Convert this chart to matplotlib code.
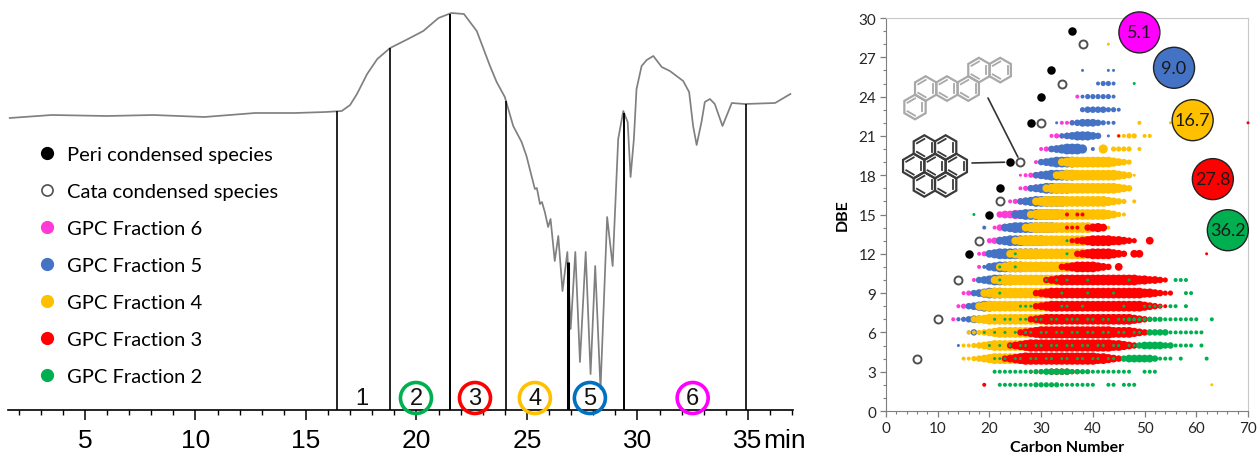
import matplotlib
matplotlib.use("Agg")
import matplotlib.pyplot as plt
from matplotlib.lines import Line2D
from matplotlib.patches import RegularPolygon, ConnectionPatch
import numpy as np

# ---------------- data: chromatogram ----------------
TRACE_T = [1.6, 3.5, 6.0, 8.1, 10.4, 12.7, 14.5, 15.9, 16.62, 17.0, 17.31, 17.77, 18.23, 18.81,
           19.62, 20.31, 21.0, 21.58, 22.15, 22.73, 23.33, 23.63, 24.0, 24.38, 24.76, 24.98,
           25.21, 25.36, 25.45, 25.59, 25.68, 25.81, 25.96, 26.07, 26.26, 26.42, 26.61, 26.83,
           26.98, 27.19, 27.4, 27.66, 27.88, 28.09, 28.33, 28.63, 28.88, 29.13, 29.36, 29.56,
           29.69, 29.84, 29.96, 30.19, 30.42, 30.72, 31.1, 31.47, 32.07, 32.34, 32.52, 32.68,
           32.9, 33.05, 33.28, 33.5, 33.85, 34.27, 34.85, 36.23, 36.92]
TRACE_H = [292, 295, 294, 295, 293, 297, 297, 298, 299, 305, 316, 336, 351, 362,
           371, 379, 392, 397, 396, 379, 344, 328, 313, 284, 268, 254,
           234, 221, 222, 206, 208, 198, 183, 191, 149, 174, 119, 158,
           81, 158, 48, 158, 36, 144, 21, 193, 144, 271, 299, 288,
           233, 271, 321, 344, 350, 354, 343, 339, 329, 318, 284, 265,
           288, 308, 311, 306, 284, 307, 306, 307, 316]
CUT_T = [16.4, 18.8, 21.5, 24.05, 26.85, 29.4, 34.9]
CUT_W = [1.2, 1.2, 1.4, 1.2, 2.2, 1.4, 1.2]
FRAC_NUM = ["1", "2", "3", "4", "5", "6"]
FRAC_NUM_T = [17.55, 19.98, 22.65, 25.36, 27.85, 32.5]
FRAC_NUM_COL = [None, "#00b050", "#ff0000", "#ffc000", "#0070c0", "#ff00ff"]
X_TICKS = [5, 10, 15, 20, 25, 30, 35]

LEGEND_LABELS = ["Peri condensed species", "Cata condensed species", "GPC Fraction 6",
                 "GPC Fraction 5", "GPC Fraction 4", "GPC Fraction 3", "GPC Fraction 2"]

# ---------------- data: DBE vs carbon number ----------------
# rows: (DBE, first carbon number, size class per successive carbon number; 0 = absent)
F6_ROWS = [
    (24, 37, "3"), (22, 34, "334"), (21, 32, "3445"), (20, 30, "34556"), (19, 29, "3456"),
    (18, 26, "234566"), (17, 26, "34566"), (16, 24, "345666"), (15, 22, "5667777"),
    (14, 21, "3566677"), (13, 20, "456677"), (12, 18, "3456677"), (11, 18, "3"),
    (10, 17, "33"), (9, 15, "34"), (8, 14, "344"), (7, 13, "33"),
]
F5_ROWS = [
    (26, 38, "2"), (26, 43, "22"), (25, 41, "3443"), (24, 38, "3444443"), (23, 38, "45555443"),
    (22, 33, "2"), (22, 36, "456665433"), (21, 34, "45677765"), (21, 43, "2"),
    (20, 32, "5678887"), (20, 40, "3"), (19, 30, "567888876"), (18, 29, "5678888876"),
    (17, 28, "5678888876"), (16, 26, "56788888876"), (15, 25, "67888888876"),
    (14, 19, "3"), (14, 23, "678888888876"), (13, 22, "6788888887"), (12, 20, "678888888877"),
    (11, 19, "3678888876"), (10, 18, "5678888"), (9, 17, "5678887"), (8, 16, "5678876"),
    (7, 14, "3456665"), (6, 16, "35"), (5, 14, "22"),
]
F4_ROWS = [
    (28, 43, "2"), (22, 49, "3"), (22, 55, "2"), (21, 45, "3344"), (21, 50, "33"),
    (20, 42, "7"), (20, 44, "4444"), (20, 49, "3"),
    (19, 34, "67888888887654"), (18, 33, "678888888888765"), (18, 48, "2"),
    (17, 31, "67888888888888765"), (16, 29, "678888888888887654"), (16, 48, "3"),
    (15, 28, "6788888888888887643"), (14, 27, "678888888888876"), (14, 43, "3"),
    (13, 25, "6788888888888876"), (12, 24, "67888888888888876"), (11, 22, "678888888888887"),
    (10, 21, "6788888888888876"), (9, 19, "67888888888888876"), (8, 18, "678888888888888876"),
    (7, 17, "56788888888888887"), (6, 16, "3345678888888888"), (5, 15, "33456788888888"),
    (4, 15, "3345678888888"), (2, 63, "2"),
]
F3_ROWS = [
    (22, 70, "2"), (21, 45, "2"), (15, 35, "3033"), (14, 35, "333"), (14, 39, "5676"),
    (13, 36, "4567888877654"), (13, 51, "6"),
    (12, 37, "5678888765"), (12, 48, "66"), (12, 62, "2"),
    (11, 34, "5678888765"), (11, 45, "6"),
    (10, 31, "567888888888888888776654"),
    (9, 29, "56788888888888888888877654"), (9, 55, "4"),
    (8, 29, "56788888888888888888876543"),
    (7, 28, "567888888888888888887654"),
    (6, 26, "56789999999999999988887654"),
    (5, 24, "56789999999999999999887654"),
    (4, 23, "567899999999999999887654"),
    (3, 28, "3344555544332"), (2, 19, "3"),
]
F2_ROWS = [
    (25, 48, "2"), (15, 17, "2"), (13, 35, "2"), (12, 25, "2"), (12, 35, "2"),
    (11, 22, "2"), (11, 25, "2"),
    (10, 22, "2"), (10, 31, "2"), (10, 33, "202"), (10, 39, "2"), (10, 47, "2"), (10, 56, "333"),
    (9, 22, "2"), (9, 34, "2"), (9, 39, "2"), (9, 44, "2"), (9, 58, "33"),
    (8, 26, "222"), (8, 34, "22002"), (8, 46, "2"), (8, 50, "2222"), (8, 55, "33"), (8, 58, "3"),
    (7, 21, "20220220220220222022022022"), (7, 47, "33334443333333"), (7, 63, "3"),
    (6, 19, "20202020220220220220220220220220"), (6, 51, "55553"), (6, 56, "333333"),
    (5, 20, "20202022022022022022022022022"), (5, 49, "5666655"), (5, 56, "3333"), (5, 61, "3"),
    (4, 21, "2220220220220220220220220"), (4, 46, "5666665"), (4, 53, "33303"), (4, 62, "3"),
    (3, 21, "333333334455555444433333333"), (3, 50, "333"),
    (2, 22, "333333344444333333300330333"),
]
PERI_C = [36, 32, 30, 28, 24, 22, 20, 16]
PERI_DBE = [29, 26, 24, 22, 19, 17, 15, 12]
CATA_C = [38, 34, 30, 26, 22, 18, 14, 10, 6]
CATA_DBE = [28, 25, 22, 19, 16, 13, 10, 7, 4]
PCT_LABELS = ["5.1", "9.0", "16.7", "27.8", "36.2"]
PCT_C = [49.0, 55.7, 59.3, 63.2, 66.1]
PCT_DBE = [28.9, 26.2, 22.2, 17.7, 13.8]

# ---------------- style ----------------
COL6, COL5, COL4, COL3, COL2 = "#ff3ad6", "#4472c4", "#ffc000", "#ff0000", "#00b050"
PCT_COLS = ["#ff00ff", "#4472c4", "#ffc000", "#ff0000", "#00b050"]
SIZE_PX = {1: 2.0, 2: 3.0, 3: 4.0, 4: 5.2, 5: 6.5, 6: 7.8, 7: 9.2, 8: 10.8, 9: 12.3}
NARROW = ["Liberation Sans", "DejaVu Sans"]
BODY = ["Lato", "DejaVu Sans"]

W, H = 1259, 464
fig = plt.figure(figsize=(W / 100, H / 100), dpi=100)
fig.patch.set_facecolor("white")

# ================= left: chromatogram =================
ax1 = fig.add_axes([8 / W, 1 - 411 / H, 785 / W, 406 / H])
ax1.set_xlim(1.52, 37.04)
ax1.set_ylim(0, 406)
ax1.plot(TRACE_T, TRACE_H, color="#808080", lw=1.25, zorder=2)
cut_h = np.interp(CUT_T, TRACE_T, TRACE_H)
for t, h, w in zip(CUT_T, cut_h, CUT_W):
    ax1.vlines(t, 0, h, color="black", lw=w, zorder=3)
for lab, t, col in zip(FRAC_NUM, FRAC_NUM_T, FRAC_NUM_COL):
    if col is not None:
        ax1.scatter([t], [12], s=(31 * 0.72) ** 2, facecolors="none", edgecolors=col,
                    linewidths=2.6, zorder=4, clip_on=False)
    ax1.text(t, 12, lab, ha="center", va="center", fontsize=17, family=NARROW,
             color="#111111", zorder=5)
for s in ["top", "right", "left"]:
    ax1.spines[s].set_visible(False)
ax1.spines["bottom"].set_linewidth(1.2)
ax1.set_yticks([])
ax1.set_xticks(X_TICKS)
ax1.set_xticks(np.arange(2, 38, 1), minor=True)
ax1.tick_params(axis="x", which="major", direction="out", length=7.2, width=1.1, pad=6,
                labelsize=19)
ax1.tick_params(axis="x", which="minor", direction="out", length=3.6, width=1.0)
for lbl in ax1.get_xticklabels():
    lbl.set_family(NARROW)
ax1.annotate("min", xy=(35.7, 0), xycoords=ax1.get_xaxis_transform(),
             xytext=(0, -(7.2 + 6)), textcoords="offset points", ha="left", va="top",
             fontsize=19, family=NARROW)

handles = [
    Line2D([], [], ls="", marker="o", ms=8.5, mfc="black", mec="black"),
    Line2D([], [], ls="", marker="o", ms=8.0, mfc="white", mec="#505050", mew=1.2),
    Line2D([], [], ls="", marker="o", ms=8.5, mfc=COL6, mec=COL6),
    Line2D([], [], ls="", marker="o", ms=8.5, mfc=COL5, mec=COL5),
    Line2D([], [], ls="", marker="o", ms=8.5, mfc=COL4, mec=COL4),
    Line2D([], [], ls="", marker="o", ms=8.5, mfc=COL3, mec=COL3),
    Line2D([], [], ls="", marker="o", ms=8.5, mfc=COL2, mec=COL2),
]
leg = ax1.legend(handles, LEGEND_LABELS, loc="upper left",
                 bbox_to_anchor=(37 / W, 1 - 147 / H), bbox_transform=fig.transFigure,
                 frameon=False, labelspacing=0.985, handletextpad=0.5, handlelength=1.0,
                 borderaxespad=0, borderpad=0, prop={"family": BODY, "size": 14.5})

# ================= right: DBE vs carbon number =================
ax2 = fig.add_axes([886 / W, 1 - 412 / H, 362 / W, 393 / H])
ax2.set_xlim(0, 70)
ax2.set_ylim(0, 30)


def expand(rows):
    cs, ds, ks = [], [], []
    for dbe, c0, digits in rows:
        for i, ch in enumerate(digits):
            k = int(ch)
            if k:
                cs.append(c0 + i)
                ds.append(dbe)
                ks.append(k)
    sz = [(SIZE_PX[k] * 0.72) ** 2 for k in ks]
    return cs, ds, sz


for z, (rows, col) in enumerate([(F6_ROWS, COL6), (F5_ROWS, COL5), (F4_ROWS, COL4),
                                 (F3_ROWS, COL3), (F2_ROWS, COL2)]):
    cs, ds, sz = expand(rows)
    ax2.scatter(cs, ds, s=sz, c=col, linewidths=0, zorder=2 + z, clip_on=False)

ax2.scatter(PERI_C, PERI_DBE, s=(8.5 * 0.72) ** 2, c="black", linewidths=0, zorder=10)
ax2.scatter(CATA_C, CATA_DBE, s=(8.0 * 0.72) ** 2, facecolors="white", edgecolors="#505050",
            linewidths=1.4, zorder=10)
ax2.scatter(PCT_C, PCT_DBE, s=(41 * 0.72) ** 2, c=PCT_COLS, edgecolors="#222222",
            linewidths=1.0, zorder=11, clip_on=False)
for lab, c, d in zip(PCT_LABELS, PCT_C, PCT_DBE):
    ax2.text(c, d, lab, ha="center", va="center", fontsize=13, family=BODY,
             color="#1a1a1a", zorder=12, clip_on=False)

ax2.set_xticks(np.arange(0, 71, 10))
ax2.set_xticks(np.arange(0, 71, 2), minor=True)
ax2.set_yticks(np.arange(0, 31, 3))
ax2.set_yticks(np.arange(0, 31, 1), minor=True)
ax2.tick_params(which="major", direction="out", length=4, width=0.9, color="#7f7f7f",
                labelsize=11, labelcolor="#262626", pad=3)
ax2.tick_params(which="minor", direction="out", length=2.5, width=0.8, color="#7f7f7f")
for lbl in ax2.get_xticklabels() + ax2.get_yticklabels():
    lbl.set_family(BODY)
for s in ["left", "bottom"]:
    ax2.spines[s].set_color("#7f7f7f")
for s in ["top", "right"]:
    ax2.spines[s].set_color("#c8c8c8")
ax2.set_xlabel("Carbon Number", fontsize=11.5, fontweight="bold", family=BODY, labelpad=4)
ax2.set_ylabel("DBE", fontsize=11.5, fontweight="bold", family=BODY, labelpad=6)

# ================= molecule sketches (pixel overlay) =================
ax3 = fig.add_axes([0, 0, 1, 1], facecolor="none", zorder=5)
ax3.set_xlim(0, W)
ax3.set_ylim(H, 0)
ax3.axis("off")
R = 12.3
S3 = np.sqrt(3) * R


def ring(ax, cx, cy, col):
    ax.add_patch(RegularPolygon((cx, cy), 6, radius=R, orientation=0, fill=False,
                                edgecolor=col, lw=1.6))
    ang = np.pi / 2 + np.arange(7) * np.pi / 3
    xi = cx + 0.7 * R * np.cos(ang)
    yi = cy + 0.7 * R * np.sin(ang)
    for k in (0, 2, 4):
        ax.plot(xi[k:k + 2], yi[k:k + 2], color=col, lw=1.3)


cx0, cy0 = 935, 167
for dx, dy in [(0, 0), (-S3, 0), (S3, 0), (-S3 / 2, -1.5 * R), (S3 / 2, -1.5 * R),
               (-S3 / 2, 1.5 * R), (S3 / 2, 1.5 * R)]:
    ring(ax3, cx0 + dx, cy0 + dy, "#3a3a3a")

ax0, ay0 = 915, 108
for dx, dy in [(0, 0), (S3 / 2, -1.5 * R), (1.5 * S3, -1.5 * R), (2.5 * S3, -1.5 * R),
               (3 * S3, -3 * R), (4 * S3, -3 * R)]:
    ring(ax3, ax0 + dx, ay0 + dy, "#a8a8a8")

for (px, py), (c, d) in [((972, 164), (24, 19)), ((988, 99), (26, 19))]:
    con = ConnectionPatch(xyA=(px, py), coordsA=ax3.transData, xyB=(c, d),
                          coordsB=ax2.transData, color="#333333", lw=1.2, shrinkB=4)
    fig.add_artist(con)

fig.savefig("out.png", dpi=100, facecolor="white")
